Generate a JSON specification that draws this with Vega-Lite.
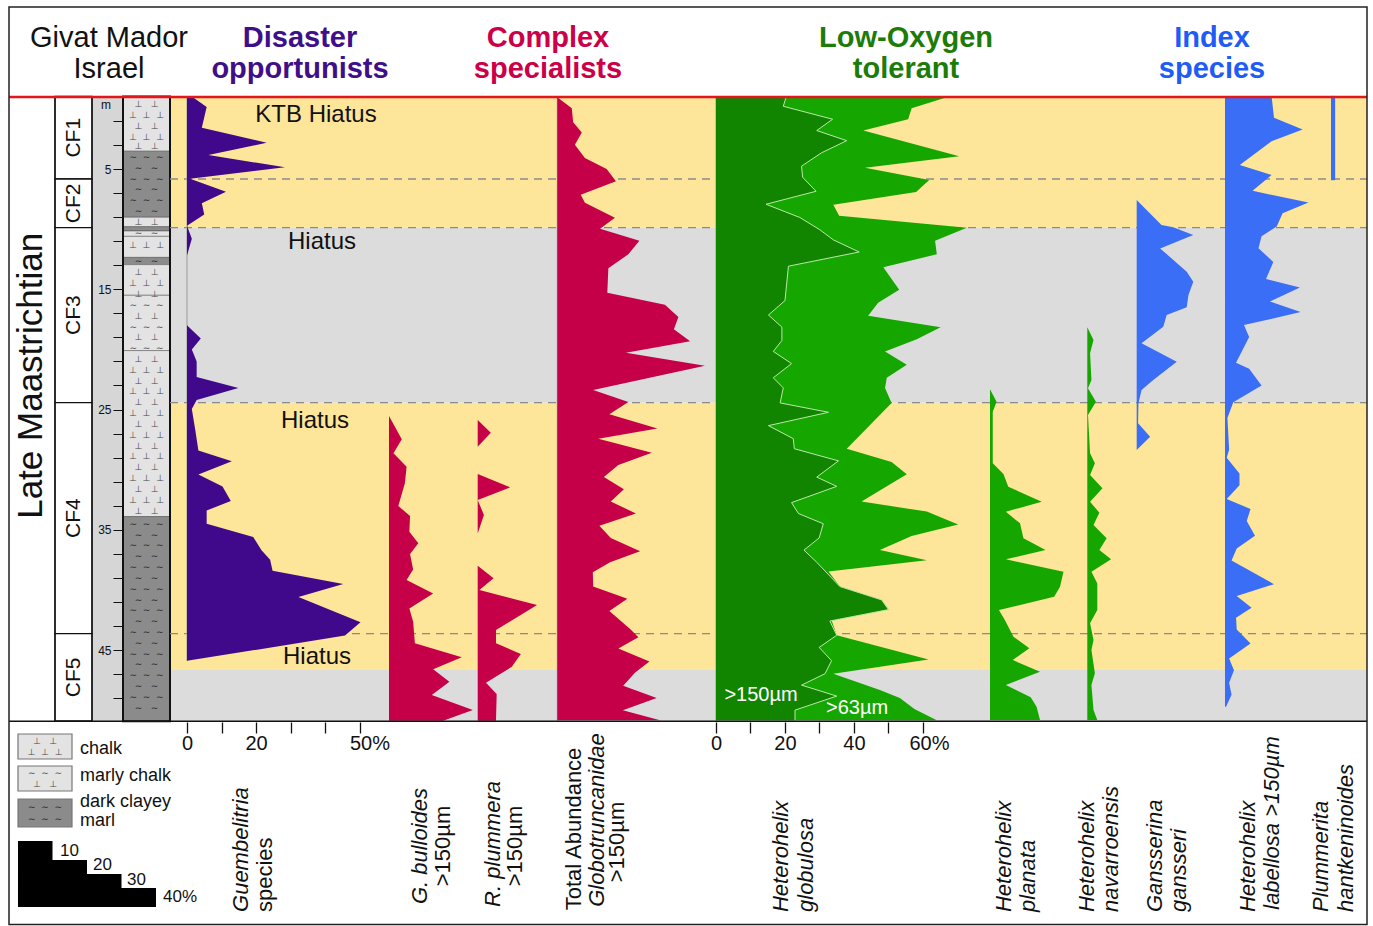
{
  "$schema": "https://vega.github.io/schema/vega-lite/v6.json",
  "width": 1373,
  "height": 926,
  "autosize": {"type": "fit", "contains": "padding"},
  "padding": 0,
  "background": "#ffffff",
  "config": {"view": {"stroke": null}, "text": {"font": "Liberation Sans"}},
  "datasets": {
    "counts": [
      {"taxon": "Guembelitria", "depth": -1.0, "pct": 1.5},
      {"taxon": "Guembelitria", "depth": -0.16, "pct": 5.7},
      {"taxon": "Guembelitria", "depth": 1.56, "pct": 4.3},
      {"taxon": "Guembelitria", "depth": 2.82, "pct": 23.1},
      {"taxon": "Guembelitria", "depth": 3.83, "pct": 6.2},
      {"taxon": "Guembelitria", "depth": 4.86, "pct": 28.4},
      {"taxon": "Guembelitria", "depth": 5.8, "pct": 0.9},
      {"taxon": "Guembelitria", "depth": 6.9, "pct": 11.3},
      {"taxon": "Guembelitria", "depth": 7.84, "pct": 4.3},
      {"taxon": "Guembelitria", "depth": 8.78, "pct": 5.0},
      {"taxon": "Guembelitria", "depth": 9.72, "pct": 0},
      {"taxon": "Guembelitria", "depth": 10.8, "pct": 1.4},
      {"taxon": "Guembelitria", "depth": 12.2, "pct": 0},
      {"taxon": "Guembelitria", "depth": 18.0, "pct": 0},
      {"taxon": "Guembelitria", "depth": 19.1, "pct": 4.0},
      {"taxon": "Guembelitria", "depth": 20.0, "pct": 1.4},
      {"taxon": "Guembelitria", "depth": 21.0, "pct": 2.8},
      {"taxon": "Guembelitria", "depth": 22.3, "pct": 2.8},
      {"taxon": "Guembelitria", "depth": 23.2, "pct": 14.9},
      {"taxon": "Guembelitria", "depth": 24.2, "pct": 2.8},
      {"taxon": "Guembelitria", "depth": 24.95, "pct": 1.4},
      {"taxon": "Guembelitria", "depth": 26.7, "pct": 2.4},
      {"taxon": "Guembelitria", "depth": 28.4, "pct": 3.3},
      {"taxon": "Guembelitria", "depth": 29.3, "pct": 13.0},
      {"taxon": "Guembelitria", "depth": 30.4, "pct": 3.3},
      {"taxon": "Guembelitria", "depth": 31.4, "pct": 10.3},
      {"taxon": "Guembelitria", "depth": 32.6, "pct": 12.7},
      {"taxon": "Guembelitria", "depth": 33.4, "pct": 5.7},
      {"taxon": "Guembelitria", "depth": 34.5, "pct": 5.7},
      {"taxon": "Guembelitria", "depth": 35.6, "pct": 19.2},
      {"taxon": "Guembelitria", "depth": 36.7, "pct": 21.6},
      {"taxon": "Guembelitria", "depth": 37.5, "pct": 24.1},
      {"taxon": "Guembelitria", "depth": 38.4, "pct": 24.8},
      {"taxon": "Guembelitria", "depth": 39.5, "pct": 45.3},
      {"taxon": "Guembelitria", "depth": 40.6, "pct": 32.3},
      {"taxon": "Guembelitria", "depth": 42.7, "pct": 50.3},
      {"taxon": "Guembelitria", "depth": 43.8, "pct": 45.8},
      {"taxon": "Guembelitria", "depth": 45.9, "pct": 0},

      {"taxon": "G. bulloides", "depth": 25.54, "pct": 0},
      {"taxon": "G. bulloides", "depth": 27.48, "pct": 3.7},
      {"taxon": "G. bulloides", "depth": 28.64, "pct": 1.3},
      {"taxon": "G. bulloides", "depth": 29.75, "pct": 5.1},
      {"taxon": "G. bulloides", "depth": 31.14, "pct": 4.6},
      {"taxon": "G. bulloides", "depth": 33.02, "pct": 2.7},
      {"taxon": "G. bulloides", "depth": 33.86, "pct": 6.1},
      {"taxon": "G. bulloides", "depth": 35.16, "pct": 5.9},
      {"taxon": "G. bulloides", "depth": 36.13, "pct": 8.5},
      {"taxon": "G. bulloides", "depth": 37.02, "pct": 6.1},
      {"taxon": "G. bulloides", "depth": 38.3, "pct": 7.0},
      {"taxon": "G. bulloides", "depth": 39.18, "pct": 5.1},
      {"taxon": "G. bulloides", "depth": 40.29, "pct": 12.8},
      {"taxon": "G. bulloides", "depth": 41.54, "pct": 5.9},
      {"taxon": "G. bulloides", "depth": 42.64, "pct": 7.0},
      {"taxon": "G. bulloides", "depth": 44.44, "pct": 7.5},
      {"taxon": "G. bulloides", "depth": 45.6, "pct": 21.1},
      {"taxon": "G. bulloides", "depth": 46.6, "pct": 12.8},
      {"taxon": "G. bulloides", "depth": 47.63, "pct": 17.5},
      {"taxon": "G. bulloides", "depth": 48.74, "pct": 12.4},
      {"taxon": "G. bulloides", "depth": 49.99, "pct": 24.3},
      {"taxon": "G. bulloides", "depth": 50.88, "pct": 15.7},

      {"taxon": "R. plummera", "depth": 25.87, "pct": 0},
      {"taxon": "R. plummera", "depth": 26.93, "pct": 3.8},
      {"taxon": "R. plummera", "depth": 28.09, "pct": 0},
      {"taxon": "R. plummera", "depth": 30.36, "pct": 0},
      {"taxon": "R. plummera", "depth": 31.47, "pct": 9.4},
      {"taxon": "R. plummera", "depth": 32.52, "pct": 0},
      {"taxon": "R. plummera", "depth": 33.77, "pct": 1.8},
      {"taxon": "R. plummera", "depth": 35.3, "pct": 0},
      {"taxon": "R. plummera", "depth": 37.99, "pct": 0},
      {"taxon": "R. plummera", "depth": 39.04, "pct": 4.6},
      {"taxon": "R. plummera", "depth": 40.01, "pct": 0.5},
      {"taxon": "R. plummera", "depth": 41.26, "pct": 17.2},
      {"taxon": "R. plummera", "depth": 43.34, "pct": 5.3},
      {"taxon": "R. plummera", "depth": 44.44, "pct": 5.3},
      {"taxon": "R. plummera", "depth": 45.33, "pct": 12.5},
      {"taxon": "R. plummera", "depth": 46.39, "pct": 9.9},
      {"taxon": "R. plummera", "depth": 47.72, "pct": 2.4},
      {"taxon": "R. plummera", "depth": 48.66, "pct": 5.5},
      {"taxon": "R. plummera", "depth": 50.88, "pct": 5.3},

      {"taxon": "Globotruncanidae", "depth": -0.96, "pct": 0},
      {"taxon": "Globotruncanidae", "depth": -0.06, "pct": 4.2},
      {"taxon": "Globotruncanidae", "depth": 1.12, "pct": 4.6},
      {"taxon": "Globotruncanidae", "depth": 1.97, "pct": 7.1},
      {"taxon": "Globotruncanidae", "depth": 2.98, "pct": 5.1},
      {"taxon": "Globotruncanidae", "depth": 4.09, "pct": 8.0},
      {"taxon": "Globotruncanidae", "depth": 5.0, "pct": 14.3},
      {"taxon": "Globotruncanidae", "depth": 6.01, "pct": 17.0},
      {"taxon": "Globotruncanidae", "depth": 7.13, "pct": 6.8},
      {"taxon": "Globotruncanidae", "depth": 7.8, "pct": 8.0},
      {"taxon": "Globotruncanidae", "depth": 9.05, "pct": 16.7},
      {"taxon": "Globotruncanidae", "depth": 9.96, "pct": 12.4},
      {"taxon": "Globotruncanidae", "depth": 10.97, "pct": 23.8},
      {"taxon": "Globotruncanidae", "depth": 12.08, "pct": 20.6},
      {"taxon": "Globotruncanidae", "depth": 13.26, "pct": 14.8},
      {"taxon": "Globotruncanidae", "depth": 15.28, "pct": 14.5},
      {"taxon": "Globotruncanidae", "depth": 16.29, "pct": 31.2},
      {"taxon": "Globotruncanidae", "depth": 17.31, "pct": 35.1},
      {"taxon": "Globotruncanidae", "depth": 18.32, "pct": 33.8},
      {"taxon": "Globotruncanidae", "depth": 19.33, "pct": 38.5},
      {"taxon": "Globotruncanidae", "depth": 20.28, "pct": 19.9},
      {"taxon": "Globotruncanidae", "depth": 21.35, "pct": 42.8},
      {"taxon": "Globotruncanidae", "depth": 23.38, "pct": 10.4},
      {"taxon": "Globotruncanidae", "depth": 24.38, "pct": 20.6},
      {"taxon": "Globotruncanidae", "depth": 25.4, "pct": 15.1},
      {"taxon": "Globotruncanidae", "depth": 26.58, "pct": 29.0},
      {"taxon": "Globotruncanidae", "depth": 27.42, "pct": 11.9},
      {"taxon": "Globotruncanidae", "depth": 28.6, "pct": 27.4},
      {"taxon": "Globotruncanidae", "depth": 29.61, "pct": 17.7},
      {"taxon": "Globotruncanidae", "depth": 30.62, "pct": 13.5},
      {"taxon": "Globotruncanidae", "depth": 31.63, "pct": 19.3},
      {"taxon": "Globotruncanidae", "depth": 32.64, "pct": 15.5},
      {"taxon": "Globotruncanidae", "depth": 33.65, "pct": 22.8},
      {"taxon": "Globotruncanidae", "depth": 34.67, "pct": 12.2},
      {"taxon": "Globotruncanidae", "depth": 35.68, "pct": 15.5},
      {"taxon": "Globotruncanidae", "depth": 36.79, "pct": 24.0},
      {"taxon": "Globotruncanidae", "depth": 37.7, "pct": 15.3},
      {"taxon": "Globotruncanidae", "depth": 38.54, "pct": 10.3},
      {"taxon": "Globotruncanidae", "depth": 39.72, "pct": 10.4},
      {"taxon": "Globotruncanidae", "depth": 40.73, "pct": 20.3},
      {"taxon": "Globotruncanidae", "depth": 41.75, "pct": 15.1},
      {"taxon": "Globotruncanidae", "depth": 43.26, "pct": 21.1},
      {"taxon": "Globotruncanidae", "depth": 43.93, "pct": 23.5},
      {"taxon": "Globotruncanidae", "depth": 44.88, "pct": 17.7},
      {"taxon": "Globotruncanidae", "depth": 45.95, "pct": 26.7},
      {"taxon": "Globotruncanidae", "depth": 46.9, "pct": 22.5},
      {"taxon": "Globotruncanidae", "depth": 47.98, "pct": 19.1},
      {"taxon": "Globotruncanidae", "depth": 48.99, "pct": 28.8},
      {"taxon": "Globotruncanidae", "depth": 50.0, "pct": 19.0},
      {"taxon": "Globotruncanidae", "depth": 50.84, "pct": 29.8},

      {"taxon": "H. globulosa >63", "depth": -0.96, "pct": 66.9},
      {"taxon": "H. globulosa >63", "depth": -0.06, "pct": 56.7},
      {"taxon": "H. globulosa >63", "depth": 0.86, "pct": 55.7},
      {"taxon": "H. globulosa >63", "depth": 1.8, "pct": 42.7},
      {"taxon": "H. globulosa >63", "depth": 3.93, "pct": 70.5},
      {"taxon": "H. globulosa >63", "depth": 4.9, "pct": 43.2},
      {"taxon": "H. globulosa >63", "depth": 5.91, "pct": 61.8},
      {"taxon": "H. globulosa >63", "depth": 6.92, "pct": 58.0},
      {"taxon": "H. globulosa >63", "depth": 7.97, "pct": 34.0},
      {"taxon": "H. globulosa >63", "depth": 8.88, "pct": 35.7},
      {"taxon": "H. globulosa >63", "depth": 9.89, "pct": 72.7},
      {"taxon": "H. globulosa >63", "depth": 10.97, "pct": 63.5},
      {"taxon": "H. globulosa >63", "depth": 12.08, "pct": 64.0},
      {"taxon": "H. globulosa >63", "depth": 13.16, "pct": 48.5},
      {"taxon": "H. globulosa >63", "depth": 15.04, "pct": 53.1},
      {"taxon": "H. globulosa >63", "depth": 16.12, "pct": 47.0},
      {"taxon": "H. globulosa >63", "depth": 17.2, "pct": 44.1},
      {"taxon": "H. globulosa >63", "depth": 18.15, "pct": 65.1},
      {"taxon": "H. globulosa >63", "depth": 19.16, "pct": 58.2},
      {"taxon": "H. globulosa >63", "depth": 20.17, "pct": 49.0},
      {"taxon": "H. globulosa >63", "depth": 21.28, "pct": 55.3},
      {"taxon": "H. globulosa >63", "depth": 22.36, "pct": 49.5},
      {"taxon": "H. globulosa >63", "depth": 23.2, "pct": 49.0},
      {"taxon": "H. globulosa >63", "depth": 24.45, "pct": 50.9},
      {"taxon": "H. globulosa >63", "depth": 28.26, "pct": 37.9},
      {"taxon": "H. globulosa >63", "depth": 29.37, "pct": 50.9},
      {"taxon": "H. globulosa >63", "depth": 30.38, "pct": 55.3},
      {"taxon": "H. globulosa >63", "depth": 32.64, "pct": 42.2},
      {"taxon": "H. globulosa >63", "depth": 33.49, "pct": 61.1},
      {"taxon": "H. globulosa >63", "depth": 34.56, "pct": 70.2},
      {"taxon": "H. globulosa >63", "depth": 35.51, "pct": 56.7},
      {"taxon": "H. globulosa >63", "depth": 36.69, "pct": 47.5},
      {"taxon": "H. globulosa >63", "depth": 37.53, "pct": 61.1},
      {"taxon": "H. globulosa >63", "depth": 38.48, "pct": 32.6},
      {"taxon": "H. globulosa >63", "depth": 39.72, "pct": 35.9},
      {"taxon": "H. globulosa >63", "depth": 40.83, "pct": 48.0},
      {"taxon": "H. globulosa >63", "depth": 41.64, "pct": 50.0},
      {"taxon": "H. globulosa >63", "depth": 42.52, "pct": 33.5},
      {"taxon": "H. globulosa >63", "depth": 43.77, "pct": 35.0},
      {"taxon": "H. globulosa >63", "depth": 45.79, "pct": 61.6},
      {"taxon": "H. globulosa >63", "depth": 46.97, "pct": 34.0},
      {"taxon": "H. globulosa >63", "depth": 48.32, "pct": 47.5},
      {"taxon": "H. globulosa >63", "depth": 48.99, "pct": 53.3},
      {"taxon": "H. globulosa >63", "depth": 49.9, "pct": 57.5},
      {"taxon": "H. globulosa >63", "depth": 50.84, "pct": 64.0},

      {"taxon": "H. globulosa >150", "depth": -0.96, "pct": 20.3},
      {"taxon": "H. globulosa >150", "depth": -0.22, "pct": 19.5},
      {"taxon": "H. globulosa >150", "depth": 0.86, "pct": 33.8},
      {"taxon": "H. globulosa >150", "depth": 1.8, "pct": 29.2},
      {"taxon": "H. globulosa >150", "depth": 2.64, "pct": 37.9},
      {"taxon": "H. globulosa >150", "depth": 3.65, "pct": 30.6},
      {"taxon": "H. globulosa >150", "depth": 4.76, "pct": 24.8},
      {"taxon": "H. globulosa >150", "depth": 5.68, "pct": 25.1},
      {"taxon": "H. globulosa >150", "depth": 6.85, "pct": 29.0},
      {"taxon": "H. globulosa >150", "depth": 7.93, "pct": 14.5},
      {"taxon": "H. globulosa >150", "depth": 9.03, "pct": 24.3},
      {"taxon": "H. globulosa >150", "depth": 10.05, "pct": 30.1},
      {"taxon": "H. globulosa >150", "depth": 10.89, "pct": 34.0},
      {"taxon": "H. globulosa >150", "depth": 11.9, "pct": 41.5},
      {"taxon": "H. globulosa >150", "depth": 13.08, "pct": 21.0},
      {"taxon": "H. globulosa >150", "depth": 15.94, "pct": 20.0},
      {"taxon": "H. globulosa >150", "depth": 17.14, "pct": 15.2},
      {"taxon": "H. globulosa >150", "depth": 18.15, "pct": 19.1},
      {"taxon": "H. globulosa >150", "depth": 19.26, "pct": 19.1},
      {"taxon": "H. globulosa >150", "depth": 20.17, "pct": 16.6},
      {"taxon": "H. globulosa >150", "depth": 21.18, "pct": 21.9},
      {"taxon": "H. globulosa >150", "depth": 22.36, "pct": 16.6},
      {"taxon": "H. globulosa >150", "depth": 23.2, "pct": 19.5},
      {"taxon": "H. globulosa >150", "depth": 24.45, "pct": 18.6},
      {"taxon": "H. globulosa >150", "depth": 25.23, "pct": 32.6},
      {"taxon": "H. globulosa >150", "depth": 26.34, "pct": 15.2},
      {"taxon": "H. globulosa >150", "depth": 27.42, "pct": 22.4},
      {"taxon": "H. globulosa >150", "depth": 28.26, "pct": 22.7},
      {"taxon": "H. globulosa >150", "depth": 29.27, "pct": 35.5},
      {"taxon": "H. globulosa >150", "depth": 30.62, "pct": 29.2},
      {"taxon": "H. globulosa >150", "depth": 31.39, "pct": 35.0},
      {"taxon": "H. globulosa >150", "depth": 32.74, "pct": 21.9},
      {"taxon": "H. globulosa >150", "depth": 33.65, "pct": 23.9},
      {"taxon": "H. globulosa >150", "depth": 34.5, "pct": 31.1},
      {"taxon": "H. globulosa >150", "depth": 35.68, "pct": 29.9},
      {"taxon": "H. globulosa >150", "depth": 36.69, "pct": 25.5},
      {"taxon": "H. globulosa >150", "depth": 37.7, "pct": 29.2},
      {"taxon": "H. globulosa >150", "depth": 39.72, "pct": 35.9},
      {"taxon": "H. globulosa >150", "depth": 40.83, "pct": 48.0},
      {"taxon": "H. globulosa >150", "depth": 41.64, "pct": 50.0},
      {"taxon": "H. globulosa >150", "depth": 42.59, "pct": 33.0},
      {"taxon": "H. globulosa >150", "depth": 43.77, "pct": 35.0},
      {"taxon": "H. globulosa >150", "depth": 44.78, "pct": 29.9},
      {"taxon": "H. globulosa >150", "depth": 45.89, "pct": 33.5},
      {"taxon": "H. globulosa >150", "depth": 46.97, "pct": 31.6},
      {"taxon": "H. globulosa >150", "depth": 47.92, "pct": 24.8},
      {"taxon": "H. globulosa >150", "depth": 48.83, "pct": 35.0},
      {"taxon": "H. globulosa >150", "depth": 50.0, "pct": 22.9},
      {"taxon": "H. globulosa >150", "depth": 50.84, "pct": 22.9},

      {"taxon": "H. planata", "depth": 23.32, "pct": 0},
      {"taxon": "H. planata", "depth": 24.35, "pct": 1.9},
      {"taxon": "H. planata", "depth": 25.18, "pct": 0.8},
      {"taxon": "H. planata", "depth": 29.47, "pct": 0.8},
      {"taxon": "H. planata", "depth": 30.36, "pct": 3.9},
      {"taxon": "H. planata", "depth": 31.42, "pct": 5.3},
      {"taxon": "H. planata", "depth": 32.66, "pct": 15.0},
      {"taxon": "H. planata", "depth": 33.5, "pct": 4.6},
      {"taxon": "H. planata", "depth": 34.46, "pct": 8.7},
      {"taxon": "H. planata", "depth": 35.71, "pct": 9.7},
      {"taxon": "H. planata", "depth": 36.68, "pct": 16.1},
      {"taxon": "H. planata", "depth": 37.46, "pct": 4.6},
      {"taxon": "H. planata", "depth": 38.49, "pct": 21.3},
      {"taxon": "H. planata", "depth": 39.73, "pct": 20.3},
      {"taxon": "H. planata", "depth": 40.57, "pct": 18.6},
      {"taxon": "H. planata", "depth": 41.67, "pct": 2.6},
      {"taxon": "H. planata", "depth": 42.5, "pct": 4.3},
      {"taxon": "H. planata", "depth": 43.89, "pct": 6.8},
      {"taxon": "H. planata", "depth": 44.86, "pct": 11.4},
      {"taxon": "H. planata", "depth": 45.83, "pct": 6.6},
      {"taxon": "H. planata", "depth": 46.8, "pct": 14.5},
      {"taxon": "H. planata", "depth": 47.91, "pct": 4.6},
      {"taxon": "H. planata", "depth": 48.93, "pct": 11.8},
      {"taxon": "H. planata", "depth": 49.71, "pct": 13.5},
      {"taxon": "H. planata", "depth": 50.82, "pct": 14.5},

      {"taxon": "H. navarroensis", "depth": 18.16, "pct": 0},
      {"taxon": "H. navarroensis", "depth": 19.22, "pct": 1.8},
      {"taxon": "H. navarroensis", "depth": 20.33, "pct": 0.8},
      {"taxon": "H. navarroensis", "depth": 22.55, "pct": 1.2},
      {"taxon": "H. navarroensis", "depth": 23.24, "pct": 0.2},
      {"taxon": "H. navarroensis", "depth": 24.35, "pct": 2.5},
      {"taxon": "H. navarroensis", "depth": 25.45, "pct": 0.2},
      {"taxon": "H. navarroensis", "depth": 28.64, "pct": 0.8},
      {"taxon": "H. navarroensis", "depth": 29.47, "pct": 2.2},
      {"taxon": "H. navarroensis", "depth": 30.44, "pct": 0.8},
      {"taxon": "H. navarroensis", "depth": 31.55, "pct": 4.4},
      {"taxon": "H. navarroensis", "depth": 32.66, "pct": 0.8},
      {"taxon": "H. navarroensis", "depth": 33.58, "pct": 3.5},
      {"taxon": "H. navarroensis", "depth": 34.6, "pct": 1.8},
      {"taxon": "H. navarroensis", "depth": 35.71, "pct": 5.6},
      {"taxon": "H. navarroensis", "depth": 36.68, "pct": 3.5},
      {"taxon": "H. navarroensis", "depth": 37.46, "pct": 6.9},
      {"taxon": "H. navarroensis", "depth": 38.49, "pct": 1.2},
      {"taxon": "H. navarroensis", "depth": 39.46, "pct": 2.9},
      {"taxon": "H. navarroensis", "depth": 41.67, "pct": 2.9},
      {"taxon": "H. navarroensis", "depth": 42.78, "pct": 0.8},
      {"taxon": "H. navarroensis", "depth": 44.17, "pct": 1.8},
      {"taxon": "H. navarroensis", "depth": 45.0, "pct": 1.2},
      {"taxon": "H. navarroensis", "depth": 46.94, "pct": 2.2},
      {"taxon": "H. navarroensis", "depth": 47.91, "pct": 1.2},
      {"taxon": "H. navarroensis", "depth": 49.99, "pct": 1.8},
      {"taxon": "H. navarroensis", "depth": 50.82, "pct": 2.9},

      {"taxon": "G. gansseri", "depth": 7.58, "pct": 0},
      {"taxon": "G. gansseri", "depth": 9.66, "pct": 7.2},
      {"taxon": "G. gansseri", "depth": 9.85, "pct": 10.6},
      {"taxon": "G. gansseri", "depth": 10.49, "pct": 16.4},
      {"taxon": "G. gansseri", "depth": 11.6, "pct": 6.8},
      {"taxon": "G. gansseri", "depth": 13.54, "pct": 14.5},
      {"taxon": "G. gansseri", "depth": 14.37, "pct": 16.4},
      {"taxon": "G. gansseri", "depth": 15.48, "pct": 15.0},
      {"taxon": "G. gansseri", "depth": 16.5, "pct": 14.5},
      {"taxon": "G. gansseri", "depth": 17.14, "pct": 8.7},
      {"taxon": "G. gansseri", "depth": 18.11, "pct": 7.7},
      {"taxon": "G. gansseri", "depth": 19.49, "pct": 1.4},
      {"taxon": "G. gansseri", "depth": 21.02, "pct": 11.6},
      {"taxon": "G. gansseri", "depth": 22.55, "pct": 4.8},
      {"taxon": "G. gansseri", "depth": 23.38, "pct": 1.4},
      {"taxon": "G. gansseri", "depth": 24.49, "pct": 0.5},
      {"taxon": "G. gansseri", "depth": 26.15, "pct": 0.4},
      {"taxon": "G. gansseri", "depth": 27.26, "pct": 3.9},
      {"taxon": "G. gansseri", "depth": 28.37, "pct": 0},

      {"taxon": "H. labellosa", "depth": -1.08, "pct": 13.5},
      {"taxon": "H. labellosa", "depth": 0.73, "pct": 14.2},
      {"taxon": "H. labellosa", "depth": 1.71, "pct": 22.5},
      {"taxon": "H. labellosa", "depth": 2.7, "pct": 13.5},
      {"taxon": "H. labellosa", "depth": 4.67, "pct": 4.3},
      {"taxon": "H. labellosa", "depth": 5.5, "pct": 13.5},
      {"taxon": "H. labellosa", "depth": 6.81, "pct": 8.0},
      {"taxon": "H. labellosa", "depth": 7.79, "pct": 24.2},
      {"taxon": "H. labellosa", "depth": 8.68, "pct": 16.7},
      {"taxon": "H. labellosa", "depth": 9.77, "pct": 15.0},
      {"taxon": "H. labellosa", "depth": 10.59, "pct": 10.6},
      {"taxon": "H. labellosa", "depth": 11.58, "pct": 9.7},
      {"taxon": "H. labellosa", "depth": 12.73, "pct": 14.0},
      {"taxon": "H. labellosa", "depth": 14.14, "pct": 11.9},
      {"taxon": "H. labellosa", "depth": 14.86, "pct": 21.7},
      {"taxon": "H. labellosa", "depth": 16.02, "pct": 13.0},
      {"taxon": "H. labellosa", "depth": 16.9, "pct": 21.9},
      {"taxon": "H. labellosa", "depth": 17.98, "pct": 5.5},
      {"taxon": "H. labellosa", "depth": 18.97, "pct": 7.0},
      {"taxon": "H. labellosa", "depth": 21.11, "pct": 3.2},
      {"taxon": "H. labellosa", "depth": 21.6, "pct": 7.0},
      {"taxon": "H. labellosa", "depth": 23.01, "pct": 10.6},
      {"taxon": "H. labellosa", "depth": 24.4, "pct": 2.4},
      {"taxon": "H. labellosa", "depth": 25.71, "pct": 0.7},
      {"taxon": "H. labellosa", "depth": 28.34, "pct": 1.2},
      {"taxon": "H. labellosa", "depth": 29.0, "pct": 0.5},
      {"taxon": "H. labellosa", "depth": 30.31, "pct": 4.2},
      {"taxon": "H. labellosa", "depth": 31.3, "pct": 4.2},
      {"taxon": "H. labellosa", "depth": 32.45, "pct": 0.5},
      {"taxon": "H. labellosa", "depth": 33.27, "pct": 7.4},
      {"taxon": "H. labellosa", "depth": 34.26, "pct": 6.3},
      {"taxon": "H. labellosa", "depth": 35.5, "pct": 8.7},
      {"taxon": "H. labellosa", "depth": 36.56, "pct": 3.4},
      {"taxon": "H. labellosa", "depth": 37.55, "pct": 1.9},
      {"taxon": "H. labellosa", "depth": 39.52, "pct": 14.2},
      {"taxon": "H. labellosa", "depth": 40.5, "pct": 3.4},
      {"taxon": "H. labellosa", "depth": 41.49, "pct": 7.7},
      {"taxon": "H. labellosa", "depth": 42.31, "pct": 3.2},
      {"taxon": "H. labellosa", "depth": 43.29, "pct": 3.4},
      {"taxon": "H. labellosa", "depth": 44.45, "pct": 7.4},
      {"taxon": "H. labellosa", "depth": 45.7, "pct": 1.2},
      {"taxon": "H. labellosa", "depth": 46.68, "pct": 2.6},
      {"taxon": "H. labellosa", "depth": 47.73, "pct": 1.2},
      {"taxon": "H. labellosa", "depth": 48.72, "pct": 1.9},
      {"taxon": "H. labellosa", "depth": 49.71, "pct": 0.3},

      {"taxon": "P. hantkeninoides", "depth": -1.08, "pct": 1.2},
      {"taxon": "P. hantkeninoides", "depth": 5.93, "pct": 1.2}
    ],
    "bands": [
      {"top": -1.03, "bot": 9.87, "band": "A"},
      {"top": 9.87, "bot": 24.43, "band": "B"},
      {"top": 24.43, "bot": 46.6, "band": "A"},
      {"top": 46.6, "bot": 50.9, "band": "B"}
    ],
    "zones": [
      {"zone": "CF1", "top": -1.03, "bot": 5.83},
      {"zone": "CF2", "top": 5.83, "bot": 9.87},
      {"zone": "CF3", "top": 9.87, "bot": 24.43},
      {"zone": "CF4", "top": 24.43, "bot": 43.64},
      {"zone": "CF5", "top": 43.64, "bot": 50.9}
    ],
    "litho": [
      {"top": -1.03, "bot": 3.52, "rock": "chalk"},
      {"top": 3.52, "bot": 9.01, "rock": "dark clayey marl"},
      {"top": 9.01, "bot": 9.8, "rock": "chalk"},
      {"top": 9.8, "bot": 10.15, "rock": "dark clayey marl"},
      {"top": 10.15, "bot": 10.6, "rock": "marly chalk"},
      {"top": 10.6, "bot": 12.35, "rock": "chalk"},
      {"top": 12.35, "bot": 12.95, "rock": "dark clayey marl"},
      {"top": 12.95, "bot": 15.5, "rock": "chalk"},
      {"top": 15.5, "bot": 20.1, "rock": "marly chalk"},
      {"top": 20.1, "bot": 33.9, "rock": "chalk"},
      {"top": 33.9, "bot": 50.92, "rock": "dark clayey marl"}
    ],
    "lithoSymbols": [
      {"depth": -0.4, "t": "⊥\u00a0\u00a0\u00a0⊥", "rock": "chalk"},
      {"depth": 0.5, "t": "⊥\u00a0\u00a0⊥\u00a0\u00a0⊥", "rock": "chalk"},
      {"depth": 1.4, "t": "⊥\u00a0\u00a0\u00a0⊥", "rock": "chalk"},
      {"depth": 2.3, "t": "⊥\u00a0\u00a0⊥\u00a0\u00a0⊥", "rock": "chalk"},
      {"depth": 3.1, "t": "⊥\u00a0\u00a0\u00a0⊥", "rock": "chalk"},
      {"depth": 4.0, "t": "∼\u00a0\u00a0∼\u00a0\u00a0∼", "rock": "dark clayey marl"},
      {"depth": 4.9, "t": "∼\u00a0\u00a0\u00a0∼", "rock": "dark clayey marl"},
      {"depth": 5.8, "t": "∼\u00a0\u00a0∼\u00a0\u00a0∼", "rock": "dark clayey marl"},
      {"depth": 6.7, "t": "∼\u00a0\u00a0\u00a0∼", "rock": "dark clayey marl"},
      {"depth": 7.6, "t": "∼\u00a0\u00a0∼\u00a0\u00a0∼", "rock": "dark clayey marl"},
      {"depth": 8.5, "t": "∼\u00a0\u00a0\u00a0∼", "rock": "dark clayey marl"},
      {"depth": 9.4, "t": "⊥\u00a0\u00a0\u00a0⊥", "rock": "chalk"},
      {"depth": 10.35, "t": "∼\u00a0\u00a0\u00a0∼", "rock": "marly chalk"},
      {"depth": 11.3, "t": "⊥\u00a0\u00a0⊥\u00a0\u00a0⊥", "rock": "chalk"},
      {"depth": 12.65, "t": "∼\u00a0\u00a0\u00a0∼", "rock": "dark clayey marl"},
      {"depth": 13.6, "t": "⊥\u00a0\u00a0\u00a0⊥", "rock": "chalk"},
      {"depth": 14.5, "t": "⊥\u00a0\u00a0⊥\u00a0\u00a0⊥", "rock": "chalk"},
      {"depth": 15.4, "t": "⊥\u00a0\u00a0\u00a0⊥", "rock": "chalk"},
      {"depth": 16.3, "t": "∼\u00a0\u00a0∼\u00a0\u00a0∼", "rock": "marly chalk"},
      {"depth": 17.2, "t": "⊥\u00a0\u00a0\u00a0⊥", "rock": "marly chalk"},
      {"depth": 18.1, "t": "∼\u00a0\u00a0∼\u00a0\u00a0∼", "rock": "marly chalk"},
      {"depth": 19.0, "t": "⊥\u00a0\u00a0\u00a0⊥", "rock": "marly chalk"},
      {"depth": 19.9, "t": "∼\u00a0\u00a0∼\u00a0\u00a0∼", "rock": "marly chalk"},
      {"depth": 20.8, "t": "⊥\u00a0\u00a0\u00a0⊥", "rock": "chalk"},
      {"depth": 21.7, "t": "⊥\u00a0\u00a0⊥\u00a0\u00a0⊥", "rock": "chalk"},
      {"depth": 22.6, "t": "⊥\u00a0\u00a0\u00a0⊥", "rock": "chalk"},
      {"depth": 23.5, "t": "⊥\u00a0\u00a0⊥\u00a0\u00a0⊥", "rock": "chalk"},
      {"depth": 24.4, "t": "⊥\u00a0\u00a0\u00a0⊥", "rock": "chalk"},
      {"depth": 25.3, "t": "⊥\u00a0\u00a0⊥\u00a0\u00a0⊥", "rock": "chalk"},
      {"depth": 26.2, "t": "⊥\u00a0\u00a0\u00a0⊥", "rock": "chalk"},
      {"depth": 27.1, "t": "⊥\u00a0\u00a0⊥\u00a0\u00a0⊥", "rock": "chalk"},
      {"depth": 28.0, "t": "⊥\u00a0\u00a0\u00a0⊥", "rock": "chalk"},
      {"depth": 28.9, "t": "⊥\u00a0\u00a0⊥\u00a0\u00a0⊥", "rock": "chalk"},
      {"depth": 29.8, "t": "⊥\u00a0\u00a0\u00a0⊥", "rock": "chalk"},
      {"depth": 30.7, "t": "⊥\u00a0\u00a0⊥\u00a0\u00a0⊥", "rock": "chalk"},
      {"depth": 31.6, "t": "⊥\u00a0\u00a0\u00a0⊥", "rock": "chalk"},
      {"depth": 32.5, "t": "⊥\u00a0\u00a0⊥\u00a0\u00a0⊥", "rock": "chalk"},
      {"depth": 33.4, "t": "⊥\u00a0\u00a0\u00a0⊥", "rock": "chalk"},
      {"depth": 34.5, "t": "∼\u00a0\u00a0∼\u00a0\u00a0∼", "rock": "dark clayey marl"},
      {"depth": 35.4, "t": "∼\u00a0\u00a0\u00a0∼", "rock": "dark clayey marl"},
      {"depth": 36.3, "t": "∼\u00a0\u00a0∼\u00a0\u00a0∼", "rock": "dark clayey marl"},
      {"depth": 37.2, "t": "∼\u00a0\u00a0\u00a0∼", "rock": "dark clayey marl"},
      {"depth": 38.1, "t": "∼\u00a0\u00a0∼\u00a0\u00a0∼", "rock": "dark clayey marl"},
      {"depth": 39.0, "t": "∼\u00a0\u00a0\u00a0∼", "rock": "dark clayey marl"},
      {"depth": 39.9, "t": "∼\u00a0\u00a0∼\u00a0\u00a0∼", "rock": "dark clayey marl"},
      {"depth": 40.8, "t": "∼\u00a0\u00a0\u00a0∼", "rock": "dark clayey marl"},
      {"depth": 41.7, "t": "∼\u00a0\u00a0∼\u00a0\u00a0∼", "rock": "dark clayey marl"},
      {"depth": 42.6, "t": "∼\u00a0\u00a0\u00a0∼", "rock": "dark clayey marl"},
      {"depth": 43.5, "t": "∼\u00a0\u00a0∼\u00a0\u00a0∼", "rock": "dark clayey marl"},
      {"depth": 44.4, "t": "∼\u00a0\u00a0\u00a0∼", "rock": "dark clayey marl"},
      {"depth": 45.3, "t": "∼\u00a0\u00a0∼\u00a0\u00a0∼", "rock": "dark clayey marl"},
      {"depth": 46.2, "t": "∼\u00a0\u00a0\u00a0∼", "rock": "dark clayey marl"},
      {"depth": 47.1, "t": "∼\u00a0\u00a0∼\u00a0\u00a0∼", "rock": "dark clayey marl"},
      {"depth": 48.0, "t": "∼\u00a0\u00a0\u00a0∼", "rock": "dark clayey marl"},
      {"depth": 48.9, "t": "∼\u00a0\u00a0∼\u00a0\u00a0∼", "rock": "dark clayey marl"},
      {"depth": 49.8, "t": "∼\u00a0\u00a0\u00a0∼", "rock": "dark clayey marl"}
    ],
    "baselines": [
      {"fx": 187, "top": -1.0, "bot": 45.9},
      {"fx": 557.3, "top": -1.0, "bot": 50.87},
      {"fx": 716, "top": -1.0, "bot": 50.87}
    ],
    "dividers": [{"fx": 55}, {"fx": 92}],
    "headSite": [
      {"t": "Givat Mador", "fx": 109, "fy": 47},
      {"t": "Israel", "fx": 109, "fy": 78}
    ],
    "headGroups": [
      {"t": "Disaster", "grp": "Disaster opportunists", "fx": 300, "fy": 47},
      {"t": "opportunists", "grp": "Disaster opportunists", "fx": 300, "fy": 78},
      {"t": "Complex", "grp": "Complex specialists", "fx": 548, "fy": 47},
      {"t": "specialists", "grp": "Complex specialists", "fx": 548, "fy": 78},
      {"t": "Low-Oxygen", "grp": "Low-Oxygen tolerant", "fx": 906, "fy": 47},
      {"t": "tolerant", "grp": "Low-Oxygen tolerant", "fx": 906, "fy": 78},
      {"t": "Index", "grp": "Index species", "fx": 1212, "fy": 47},
      {"t": "species", "grp": "Index species", "fx": 1212, "fy": 78}
    ],
    "hiatus": [
      {"t": "KTB Hiatus", "fx": 316, "depth": 1.09},
      {"t": "Hiatus", "fx": 322, "depth": 11.61},
      {"t": "Hiatus", "fx": 315, "depth": 26.51},
      {"t": "Hiatus", "fx": 317, "depth": 46.19}
    ],
    "period": [{"t": "Late Maastrichtian", "fx": 31, "depth": 22.2}],
    "sizeFractions": [
      {"t": ">150µm", "fx": 761, "depth": 48.74},
      {"t": ">63µm", "fx": 857, "depth": 49.82}
    ],
    "unitLabel": [{"t": "m", "fx": 106, "fy": 105}],
    "legendBoxes": [
      {"rock": "chalk", "x1": 18, "x2": 72, "y1": 734, "y2": 759},
      {"rock": "marly chalk", "x1": 18, "x2": 72, "y1": 766, "y2": 791},
      {"rock": "dark clayey marl", "x1": 18, "x2": 72, "y1": 799, "y2": 827}
    ],
    "legendSymbols": [
      {"t": "⊥\u00a0\u00a0\u00a0⊥", "fx": 45, "fy": 741, "rock": "chalk"},
      {"t": "⊥\u00a0\u00a0⊥\u00a0\u00a0⊥", "fx": 45, "fy": 752, "rock": "chalk"},
      {"t": "∼\u00a0\u00a0∼\u00a0\u00a0∼", "fx": 45, "fy": 773, "rock": "marly chalk"},
      {"t": "⊥\u00a0\u00a0\u00a0⊥", "fx": 45, "fy": 784, "rock": "marly chalk"},
      {"t": "∼\u00a0\u00a0∼\u00a0\u00a0∼", "fx": 45, "fy": 807, "rock": "dark clayey marl"},
      {"t": "∼\u00a0\u00a0∼\u00a0\u00a0∼", "fx": 45, "fy": 819, "rock": "dark clayey marl"}
    ],
    "legendText": [
      {"t": "chalk", "fx": 80, "fy": 749},
      {"t": "marly chalk", "fx": 80, "fy": 776},
      {"t": "dark clayey", "fx": 80, "fy": 802},
      {"t": "marl", "fx": 80, "fy": 821}
    ],
    "scaleBar": [
      {"pct": 10, "top": 841},
      {"pct": 20, "top": 860},
      {"pct": 30, "top": 874},
      {"pct": 40, "top": 888}
    ],
    "scaleBarText": [
      {"t": "10", "fx": 60, "fy": 851},
      {"t": "20", "fx": 93, "fy": 865},
      {"t": "30", "fx": 127, "fy": 880},
      {"t": "40%", "fx": 163, "fy": 897}
    ],
    "taxaItalic": [
      {"t": "Guembelitria", "fx": 241, "fy": 849.6},
      {"t": "G. bulloides", "fx": 420, "fy": 846},
      {"t": "R. plummera", "fx": 493, "fy": 844},
      {"t": "Globotruncanidae", "fx": 597, "fy": 820},
      {"t": "Heterohelix", "fx": 781, "fy": 856.4},
      {"t": "globulosa", "fx": 806, "fy": 864.9},
      {"t": "Heterohelix", "fx": 1004, "fy": 856.4},
      {"t": "planata", "fx": 1028, "fy": 875.9},
      {"t": "Heterohelix", "fx": 1087, "fy": 856.4},
      {"t": "navarroensis", "fx": 1111, "fy": 849},
      {"t": "Gansserina", "fx": 1155, "fy": 855.8},
      {"t": "gansseri", "fx": 1179, "fy": 870.4},
      {"t": "Heterohelix", "fx": 1248, "fy": 856.4},
      {"t": "labellosa >150µm", "fx": 1272, "fy": 823},
      {"t": "Plummerita", "fx": 1321, "fy": 856.4},
      {"t": "hantkeninoides", "fx": 1346, "fy": 838}
    ],
    "taxaRegular": [
      {"t": "species", "fx": 265, "fy": 874.7},
      {"t": ">150µm", "fx": 443, "fy": 846},
      {"t": ">150µm", "fx": 515, "fy": 846},
      {"t": "Total Abundance", "fx": 574, "fy": 829},
      {"t": ">150µm", "fx": 617, "fy": 842}
    ]
  },
  "resolve": {"scale": {"x": "independent", "y": "independent", "color": "independent"}},
  "layer": [
    {
      "data": {"name": "bands"},
      "mark": {"type": "rect"},
      "encoding": {
        "x": {"datum": 170, "type": "quantitative", "scale": {"domain": [0, 1373], "nice": false, "zero": false}, "axis": null},
        "x2": {"datum": 1367},
        "y": {"field": "top", "type": "quantitative", "scale": {"domain": [-9.056, 67.95], "reverse": true, "nice": false, "zero": false}, "axis": null},
        "y2": {"field": "bot"},
        "color": {"field": "band", "type": "nominal", "scale": {"domain": ["A", "B"], "range": ["#fde59a", "#dcdcdc"]}, "legend": null}
      }
    },
    {
      "data": {"values": [{"col": "depth scale"}]},
      "mark": {"type": "rect", "color": "#d6d6d6"},
      "encoding": {
        "x": {"datum": 92, "type": "quantitative", "scale": {"domain": [0, 1373], "nice": false, "zero": false}, "axis": null},
        "x2": {"datum": 123},
        "y": {"datum": -1.03, "type": "quantitative", "scale": {"domain": [-9.056, 67.95], "reverse": true, "nice": false, "zero": false}, "axis": null},
        "y2": {"datum": 50.92}
      }
    },
    {
      "data": {"name": "zones"},
      "mark": {"type": "rect", "fill": "#ffffff", "stroke": "#111111", "strokeWidth": 1.3},
      "encoding": {
        "x": {"datum": 55, "type": "quantitative", "scale": {"domain": [0, 1373], "nice": false, "zero": false}, "axis": null},
        "x2": {"datum": 92},
        "y": {"field": "top", "type": "quantitative", "scale": {"domain": [-9.056, 67.95], "reverse": true, "nice": false, "zero": false}, "axis": null},
        "y2": {"field": "bot"}
      }
    },
    {
      "data": {"name": "litho"},
      "mark": {"type": "rect", "stroke": "#5c5c5c", "strokeWidth": 0.6},
      "encoding": {
        "x": {"datum": 123, "type": "quantitative", "scale": {"domain": [0, 1373], "nice": false, "zero": false}, "axis": null},
        "x2": {"datum": 170},
        "y": {"field": "top", "type": "quantitative", "scale": {"domain": [-9.056, 67.95], "reverse": true, "nice": false, "zero": false}, "axis": null},
        "y2": {"field": "bot"},
        "color": {"field": "rock", "type": "nominal", "scale": {"domain": ["chalk", "marly chalk", "dark clayey marl"], "range": ["#e3e3e3", "#e3e3e3", "#8b8b8b"]}, "legend": null}
      }
    },
    {
      "data": {"name": "lithoSymbols"},
      "mark": {"type": "text", "font": "DejaVu Sans", "fontSize": 9, "align": "center", "baseline": "middle"},
      "encoding": {
        "x": {"datum": 146.5, "type": "quantitative", "scale": {"domain": [0, 1373], "nice": false, "zero": false}, "axis": null},
        "y": {"field": "depth", "type": "quantitative", "scale": {"domain": [-9.056, 67.95], "reverse": true, "nice": false, "zero": false}, "axis": null},
        "text": {"field": "t"},
        "color": {"field": "rock", "type": "nominal", "scale": {"domain": ["chalk", "marly chalk", "dark clayey marl"], "range": ["#4a4a4a", "#4a4a4a", "#262626"]}, "legend": null}
      }
    },
    {
      "data": {"values": [{"col": "lithology"}]},
      "mark": {"type": "rect", "fillOpacity": 0, "stroke": "#111111", "strokeWidth": 2},
      "encoding": {
        "x": {"datum": 123, "type": "quantitative", "scale": {"domain": [0, 1373], "nice": false, "zero": false}, "axis": null},
        "x2": {"datum": 170},
        "y": {"datum": -1.03, "type": "quantitative", "scale": {"domain": [-9.056, 67.95], "reverse": true, "nice": false, "zero": false}, "axis": null},
        "y2": {"datum": 50.92}
      }
    },
    {
      "data": {"name": "zones"},
      "transform": [{"filter": "datum.zone !== 'CF1'"}],
      "mark": {"type": "rule", "color": "#8a8a8a", "strokeWidth": 1.3, "strokeDash": [8, 6]},
      "encoding": {
        "x": {"datum": 170, "type": "quantitative", "scale": {"domain": [0, 1373], "nice": false, "zero": false}, "axis": null},
        "x2": {"datum": 1367},
        "y": {
          "field": "top", "type": "quantitative",
          "scale": {"domain": [-9.056, 67.95], "reverse": true, "nice": false, "zero": false},
          "axis": {
            "orient": "left", "offset": -123, "zindex": 2, "title": null, "domain": false, "grid": false,
            "values": [1, 3, 5, 7, 9, 11, 13, 15, 17, 19, 21, 23, 25, 27, 29, 31, 33, 35, 37, 39, 41, 43, 45, 47, 49],
            "labelExpr": "datum.value % 10 === 5 ? datum.label : ''",
            "tickSize": 10, "tickWidth": 1, "tickColor": "#111111",
            "labelFont": "Liberation Sans", "labelFontSize": 12, "labelColor": "#111111",
            "labelPadding": 2, "labelOverlap": false, "labelBound": false, "labelFlush": false
          }
        }
      }
    },
    {
      "data": {"name": "baselines"},
      "mark": {"type": "rule", "color": "#9a9a9a", "strokeWidth": 1},
      "encoding": {
        "x": {"field": "fx", "type": "quantitative", "scale": {"domain": [0, 1373], "nice": false, "zero": false}, "axis": null},
        "y": {"field": "top", "type": "quantitative", "scale": {"domain": [-9.056, 67.95], "reverse": true, "nice": false, "zero": false}, "axis": null},
        "y2": {"field": "bot"}
      }
    },
    {
      "data": {"name": "counts"},
      "transform": [{"filter": "datum.taxon === 'Guembelitria'"}],
      "mark": {"type": "area", "orient": "horizontal", "color": "#40098c"},
      "encoding": {
        "y": {"field": "depth", "type": "quantitative", "scale": {"domain": [-9.056, 67.95], "reverse": true, "nice": false, "zero": false}, "axis": null},
        "x": {
          "field": "pct", "type": "quantitative", "stack": null,
          "scale": {"domain": [-54.203, 343.768], "nice": false},
          "axis": {
            "orient": "bottom", "offset": -204, "zindex": 2, "title": null, "domain": false, "grid": false,
            "values": [0, 10, 20, 30, 40, 50],
            "labelExpr": "datum.value === 50 ? '50%' : (datum.value === 0 || datum.value === 20 ? datum.label : '')",
            "labelOffset": {"condition": {"test": "datum.value === 50", "value": 10}, "value": 0},
            "tickSize": 11, "tickWidth": 1.3, "tickColor": "#111111",
            "labelFont": "Liberation Sans", "labelFontSize": 20, "labelColor": "#111111",
            "labelPadding": 0, "labelOverlap": false, "labelBound": false, "labelFlush": false
          }
        }
      }
    },
    {
      "data": {"name": "counts"},
      "transform": [{"filter": "datum.taxon === 'G. bulloides'"}],
      "mark": {"type": "area", "orient": "horizontal", "color": "#c60048"},
      "encoding": {
        "y": {"field": "depth", "type": "quantitative", "scale": {"domain": [-9.056, 67.95], "reverse": true, "nice": false, "zero": false}, "axis": null},
        "x": {"field": "pct", "type": "quantitative", "stack": null, "scale": {"domain": [-112.754, 285.217], "nice": false}, "axis": null}
      }
    },
    {
      "data": {"name": "counts"},
      "transform": [{"filter": "datum.taxon === 'R. plummera'"}],
      "mark": {"type": "area", "orient": "horizontal", "color": "#c60048"},
      "encoding": {
        "y": {"field": "depth", "type": "quantitative", "scale": {"domain": [-9.056, 67.95], "reverse": true, "nice": false, "zero": false}, "axis": null},
        "x": {"field": "pct", "type": "quantitative", "stack": null, "scale": {"domain": [-138.464, 259.507], "nice": false}, "axis": null}
      }
    },
    {
      "data": {"name": "counts"},
      "transform": [{"filter": "datum.taxon === 'Globotruncanidae'"}],
      "mark": {"type": "area", "orient": "horizontal", "color": "#c60048"},
      "encoding": {
        "y": {"field": "depth", "type": "quantitative", "scale": {"domain": [-9.056, 67.95], "reverse": true, "nice": false, "zero": false}, "axis": null},
        "x": {"field": "pct", "type": "quantitative", "stack": null, "scale": {"domain": [-161.536, 236.435], "nice": false}, "axis": null}
      }
    },
    {
      "data": {"name": "counts"},
      "transform": [{"filter": "datum.taxon === 'H. globulosa >63'"}],
      "mark": {"type": "area", "orient": "horizontal", "color": "#16a600"},
      "encoding": {
        "y": {"field": "depth", "type": "quantitative", "scale": {"domain": [-9.056, 67.95], "reverse": true, "nice": false, "zero": false}, "axis": null},
        "x": {
          "field": "pct", "type": "quantitative", "stack": null,
          "scale": {"domain": [-207.536, 190.435], "nice": false},
          "axis": {
            "orient": "bottom", "offset": -204, "zindex": 2, "title": null, "domain": false, "grid": false,
            "values": [0, 10, 20, 30, 40, 50, 60],
            "labelExpr": "datum.value === 60 ? '60%' : (datum.value % 20 === 0 ? datum.label : '')",
            "labelOffset": {"condition": {"test": "datum.value === 60", "value": 6}, "value": 0},
            "tickSize": 11, "tickWidth": 1.3, "tickColor": "#111111",
            "labelFont": "Liberation Sans", "labelFontSize": 20, "labelColor": "#111111",
            "labelPadding": 0, "labelOverlap": false, "labelBound": false, "labelFlush": false
          }
        }
      }
    },
    {
      "data": {"name": "counts"},
      "transform": [{"filter": "datum.taxon === 'H. globulosa >150'"}],
      "mark": {"type": "area", "orient": "horizontal", "color": "#128500"},
      "encoding": {
        "y": {"field": "depth", "type": "quantitative", "scale": {"domain": [-9.056, 67.95], "reverse": true, "nice": false, "zero": false}, "axis": null},
        "x": {"field": "pct", "type": "quantitative", "stack": null, "scale": {"domain": [-207.536, 190.435], "nice": false}, "axis": null}
      }
    },
    {
      "data": {"name": "counts"},
      "transform": [{"filter": "datum.taxon === 'H. globulosa >150'"}],
      "mark": {"type": "line", "color": "#b9e8ab", "strokeWidth": 1},
      "encoding": {
        "y": {"field": "depth", "type": "quantitative", "scale": {"domain": [-9.056, 67.95], "reverse": true, "nice": false, "zero": false}, "axis": null},
        "x": {"field": "pct", "type": "quantitative", "scale": {"domain": [-207.536, 190.435], "nice": false}, "axis": null},
        "order": {"field": "depth", "type": "quantitative"}
      }
    },
    {
      "data": {"name": "counts"},
      "transform": [{"filter": "datum.taxon === 'H. planata'"}],
      "mark": {"type": "area", "orient": "horizontal", "color": "#16a600"},
      "encoding": {
        "y": {"field": "depth", "type": "quantitative", "scale": {"domain": [-9.056, 67.95], "reverse": true, "nice": false, "zero": false}, "axis": null},
        "x": {"field": "pct", "type": "quantitative", "stack": null, "scale": {"domain": [-286.957, 111.014], "nice": false}, "axis": null}
      }
    },
    {
      "data": {"name": "counts"},
      "transform": [{"filter": "datum.taxon === 'H. navarroensis'"}],
      "mark": {"type": "area", "orient": "horizontal", "color": "#16a600"},
      "encoding": {
        "y": {"field": "depth", "type": "quantitative", "scale": {"domain": [-9.056, 67.95], "reverse": true, "nice": false, "zero": false}, "axis": null},
        "x": {"field": "pct", "type": "quantitative", "stack": null, "scale": {"domain": [-315.159, 82.812], "nice": false}, "axis": null}
      }
    },
    {
      "data": {"name": "counts"},
      "transform": [{"filter": "datum.taxon === 'G. gansseri'"}],
      "mark": {"type": "area", "orient": "horizontal", "color": "#3b6ef6"},
      "encoding": {
        "y": {"field": "depth", "type": "quantitative", "scale": {"domain": [-9.056, 67.95], "reverse": true, "nice": false, "zero": false}, "axis": null},
        "x": {"field": "pct", "type": "quantitative", "stack": null, "scale": {"domain": [-329.478, 68.493], "nice": false}, "axis": null}
      }
    },
    {
      "data": {"name": "counts"},
      "transform": [{"filter": "datum.taxon === 'H. labellosa'"}],
      "mark": {"type": "area", "orient": "horizontal", "color": "#3b6ef6"},
      "encoding": {
        "y": {"field": "depth", "type": "quantitative", "scale": {"domain": [-9.056, 67.95], "reverse": true, "nice": false, "zero": false}, "axis": null},
        "x": {"field": "pct", "type": "quantitative", "stack": null, "scale": {"domain": [-355.072, 42.899], "nice": false}, "axis": null}
      }
    },
    {
      "data": {"name": "counts"},
      "transform": [{"filter": "datum.taxon === 'P. hantkeninoides'"}],
      "mark": {"type": "area", "orient": "horizontal", "color": "#3b6ef6"},
      "encoding": {
        "y": {"field": "depth", "type": "quantitative", "scale": {"domain": [-9.056, 67.95], "reverse": true, "nice": false, "zero": false}, "axis": null},
        "x": {"field": "pct", "type": "quantitative", "stack": null, "scale": {"domain": [-385.797, 12.174], "nice": false}, "axis": null}
      }
    },
    {
      "data": {"name": "dividers"},
      "mark": {"type": "rule", "color": "#111111", "strokeWidth": 1.3},
      "encoding": {
        "x": {"field": "fx", "type": "quantitative", "scale": {"domain": [0, 1373], "nice": false, "zero": false}, "axis": null},
        "y": {"datum": -1.03, "type": "quantitative", "scale": {"domain": [-9.056, 67.95], "reverse": true, "nice": false, "zero": false}, "axis": null},
        "y2": {"datum": 50.92}
      }
    },
    {
      "data": {"values": [{"line": "section base"}]},
      "mark": {"type": "rule", "color": "#111111", "strokeWidth": 1.6},
      "encoding": {
        "x": {"datum": 9, "type": "quantitative", "scale": {"domain": [0, 1373], "nice": false, "zero": false}, "axis": null},
        "x2": {"datum": 1367},
        "y": {"datum": 50.92, "type": "quantitative", "scale": {"domain": [-9.056, 67.95], "reverse": true, "nice": false, "zero": false}, "axis": null}
      }
    },
    {
      "data": {"values": [{"line": "K/T boundary"}]},
      "mark": {"type": "rule", "color": "#e3161b", "strokeWidth": 2.6},
      "encoding": {
        "x": {"datum": 9, "type": "quantitative", "scale": {"domain": [0, 1373], "nice": false, "zero": false}, "axis": null},
        "x2": {"datum": 1367},
        "y": {"datum": -0.99, "type": "quantitative", "scale": {"domain": [-9.056, 67.95], "reverse": true, "nice": false, "zero": false}, "axis": null}
      }
    },
    {
      "data": {"values": [{"frame": "outer"}]},
      "mark": {"type": "rect", "fillOpacity": 0, "stroke": "#222222", "strokeWidth": 1.5},
      "encoding": {
        "x": {"datum": 9, "type": "quantitative", "scale": {"domain": [0, 1373], "nice": false, "zero": false}, "axis": null},
        "x2": {"datum": 1367},
        "y": {"datum": 7, "type": "quantitative", "scale": {"domain": [0, 926], "reverse": true, "nice": false, "zero": false}, "axis": null},
        "y2": {"datum": 924.5}
      }
    },
    {
      "data": {"name": "zones"},
      "transform": [{"calculate": "(datum.top + datum.bot) / 2", "as": "mid"}],
      "mark": {"type": "text", "fontSize": 21, "angle": 270, "align": "center", "baseline": "middle", "color": "#111111"},
      "encoding": {
        "x": {"datum": 73.5, "type": "quantitative", "scale": {"domain": [0, 1373], "nice": false, "zero": false}, "axis": null},
        "y": {"field": "mid", "type": "quantitative", "scale": {"domain": [-9.056, 67.95], "reverse": true, "nice": false, "zero": false}, "axis": null},
        "text": {"field": "zone"}
      }
    },
    {
      "data": {"name": "period"},
      "mark": {"type": "text", "fontSize": 35, "angle": 270, "align": "center", "baseline": "middle", "color": "#111111"},
      "encoding": {
        "x": {"field": "fx", "type": "quantitative", "scale": {"domain": [0, 1373], "nice": false, "zero": false}, "axis": null},
        "y": {"field": "depth", "type": "quantitative", "scale": {"domain": [-9.056, 67.95], "reverse": true, "nice": false, "zero": false}, "axis": null},
        "text": {"field": "t"}
      }
    },
    {
      "data": {"name": "hiatus"},
      "mark": {"type": "text", "fontSize": 24, "align": "center", "baseline": "alphabetic", "color": "#111111"},
      "encoding": {
        "x": {"field": "fx", "type": "quantitative", "scale": {"domain": [0, 1373], "nice": false, "zero": false}, "axis": null},
        "y": {"field": "depth", "type": "quantitative", "scale": {"domain": [-9.056, 67.95], "reverse": true, "nice": false, "zero": false}, "axis": null},
        "text": {"field": "t"}
      }
    },
    {
      "data": {"name": "sizeFractions"},
      "mark": {"type": "text", "fontSize": 20, "align": "center", "baseline": "middle", "color": "#ffffff"},
      "encoding": {
        "x": {"field": "fx", "type": "quantitative", "scale": {"domain": [0, 1373], "nice": false, "zero": false}, "axis": null},
        "y": {"field": "depth", "type": "quantitative", "scale": {"domain": [-9.056, 67.95], "reverse": true, "nice": false, "zero": false}, "axis": null},
        "text": {"field": "t"}
      }
    },
    {
      "data": {"name": "unitLabel"},
      "mark": {"type": "text", "fontSize": 12, "align": "center", "baseline": "middle", "color": "#111111"},
      "encoding": {
        "x": {"field": "fx", "type": "quantitative", "scale": {"domain": [0, 1373], "nice": false, "zero": false}, "axis": null},
        "y": {"field": "fy", "type": "quantitative", "scale": {"domain": [0, 926], "reverse": true, "nice": false, "zero": false}, "axis": null},
        "text": {"field": "t"}
      }
    },
    {
      "data": {"name": "headSite"},
      "mark": {"type": "text", "fontSize": 29, "align": "center", "baseline": "alphabetic", "color": "#111111"},
      "encoding": {
        "x": {"field": "fx", "type": "quantitative", "scale": {"domain": [0, 1373], "nice": false, "zero": false}, "axis": null},
        "y": {"field": "fy", "type": "quantitative", "scale": {"domain": [0, 926], "reverse": true, "nice": false, "zero": false}, "axis": null},
        "text": {"field": "t"}
      }
    },
    {
      "data": {"name": "headGroups"},
      "mark": {"type": "text", "fontSize": 29, "fontWeight": "bold", "align": "center", "baseline": "alphabetic"},
      "encoding": {
        "x": {"field": "fx", "type": "quantitative", "scale": {"domain": [0, 1373], "nice": false, "zero": false}, "axis": null},
        "y": {"field": "fy", "type": "quantitative", "scale": {"domain": [0, 926], "reverse": true, "nice": false, "zero": false}, "axis": null},
        "text": {"field": "t"},
        "color": {"field": "grp", "type": "nominal", "scale": {"domain": ["Disaster opportunists", "Complex specialists", "Low-Oxygen tolerant", "Index species"], "range": ["#3f0f8a", "#cc0049", "#1c7c08", "#1f5cf5"]}, "legend": null}
      }
    },
    {
      "data": {"name": "legendBoxes"},
      "mark": {"type": "rect", "stroke": "#777777", "strokeWidth": 1.2},
      "encoding": {
        "x": {"field": "x1", "type": "quantitative", "scale": {"domain": [0, 1373], "nice": false, "zero": false}, "axis": null},
        "x2": {"field": "x2"},
        "y": {"field": "y1", "type": "quantitative", "scale": {"domain": [0, 926], "reverse": true, "nice": false, "zero": false}, "axis": null},
        "y2": {"field": "y2"},
        "color": {"field": "rock", "type": "nominal", "scale": {"domain": ["chalk", "marly chalk", "dark clayey marl"], "range": ["#e3e3e3", "#e3e3e3", "#8b8b8b"]}, "legend": null}
      }
    },
    {
      "data": {"name": "legendSymbols"},
      "mark": {"type": "text", "font": "DejaVu Sans", "fontSize": 9, "align": "center", "baseline": "middle"},
      "encoding": {
        "x": {"field": "fx", "type": "quantitative", "scale": {"domain": [0, 1373], "nice": false, "zero": false}, "axis": null},
        "y": {"field": "fy", "type": "quantitative", "scale": {"domain": [0, 926], "reverse": true, "nice": false, "zero": false}, "axis": null},
        "text": {"field": "t"},
        "color": {"field": "rock", "type": "nominal", "scale": {"domain": ["chalk", "marly chalk", "dark clayey marl"], "range": ["#4a4a4a", "#4a4a4a", "#262626"]}, "legend": null}
      }
    },
    {
      "data": {"name": "legendText"},
      "mark": {"type": "text", "fontSize": 18, "align": "left", "baseline": "middle", "color": "#111111"},
      "encoding": {
        "x": {"field": "fx", "type": "quantitative", "scale": {"domain": [0, 1373], "nice": false, "zero": false}, "axis": null},
        "y": {"field": "fy", "type": "quantitative", "scale": {"domain": [0, 926], "reverse": true, "nice": false, "zero": false}, "axis": null},
        "text": {"field": "t"}
      }
    },
    {
      "data": {"name": "scaleBar"},
      "mark": {"type": "rect", "color": "#000000"},
      "encoding": {
        "x": {"field": "pct", "type": "quantitative", "scale": {"domain": [-5.217, 392.754], "nice": false}, "axis": null},
        "x2": {"datum": 0},
        "y": {"field": "top", "type": "quantitative", "scale": {"domain": [0, 926], "reverse": true, "nice": false, "zero": false}, "axis": null},
        "y2": {"datum": 907}
      }
    },
    {
      "data": {"name": "scaleBarText"},
      "mark": {"type": "text", "fontSize": 17, "align": "left", "baseline": "middle", "color": "#111111"},
      "encoding": {
        "x": {"field": "fx", "type": "quantitative", "scale": {"domain": [0, 1373], "nice": false, "zero": false}, "axis": null},
        "y": {"field": "fy", "type": "quantitative", "scale": {"domain": [0, 926], "reverse": true, "nice": false, "zero": false}, "axis": null},
        "text": {"field": "t"}
      }
    },
    {
      "data": {"name": "taxaItalic"},
      "mark": {"type": "text", "fontSize": 22, "fontStyle": "italic", "angle": 270, "align": "center", "baseline": "middle", "color": "#111111"},
      "encoding": {
        "x": {"field": "fx", "type": "quantitative", "scale": {"domain": [0, 1373], "nice": false, "zero": false}, "axis": null},
        "y": {"field": "fy", "type": "quantitative", "scale": {"domain": [0, 926], "reverse": true, "nice": false, "zero": false}, "axis": null},
        "text": {"field": "t"}
      }
    },
    {
      "data": {"name": "taxaRegular"},
      "mark": {"type": "text", "fontSize": 22, "angle": 270, "align": "center", "baseline": "middle", "color": "#111111"},
      "encoding": {
        "x": {"field": "fx", "type": "quantitative", "scale": {"domain": [0, 1373], "nice": false, "zero": false}, "axis": null},
        "y": {"field": "fy", "type": "quantitative", "scale": {"domain": [0, 926], "reverse": true, "nice": false, "zero": false}, "axis": null},
        "text": {"field": "t"}
      }
    }
  ]
}
